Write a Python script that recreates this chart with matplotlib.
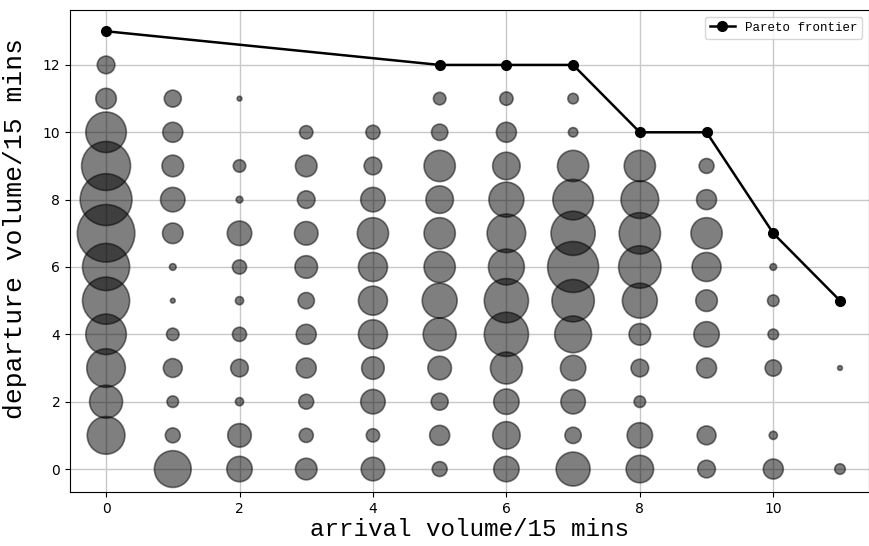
import numpy as np
import matplotlib
matplotlib.use("Agg")
import matplotlib.pyplot as plt

# arrival volume (x) and departure volume (y) grid
arrivals = list(range(12))
departures = list(range(13))

# number of observations per (departure, arrival) cell, rows = departure 0..12
counts = [
    [0, 61, 29, 21, 25, 10, 29, 52, 34, 14, 18, 5],    # 0
    [64, 10, 25, 9, 8, 18, 34, 12, 29, 16, 3, 0],      # 1
    [49, 6, 3, 10, 27, 13, 29, 27, 6, 0, 0, 0],        # 2
    [67, 16, 14, 18, 23, 25, 46, 29, 14, 18, 12, 1],   # 3
    [74, 7, 9, 18, 38, 49, 88, 61, 21, 29, 5, 0],      # 4
    [100, 1, 3, 12, 38, 55, 88, 81, 55, 21, 6, 0],     # 5
    [100, 2, 9, 23, 38, 44, 58, 117, 81, 38, 2, 0],    # 6
    [149, 19, 27, 25, 44, 44, 67, 88, 77, 44, 0, 0],   # 7
    [121, 27, 2, 14, 27, 34, 55, 74, 64, 18, 0, 0],    # 8
    [108, 21, 7, 21, 14, 44, 34, 44, 44, 10, 0, 0],    # 9
    [74, 18, 0, 8, 9, 12, 18, 4, 0, 0, 0, 0],          # 10
    [19, 13, 1, 0, 0, 7, 8, 5, 0, 0, 0, 0],            # 11
    [14, 0, 0, 0, 0, 0, 0, 0, 0, 0, 0, 0],             # 12
]

pareto_x = [0, 5, 6, 7, 8, 9, 10, 11]
pareto_y = [13, 12, 12, 12, 10, 10, 7, 5]

counts = np.array(counts)
yy, xx = np.nonzero(counts)
c = counts[yy, xx]

fig = plt.figure(figsize=(8.7, 5.46), dpi=100)
ax = fig.add_axes([0.0805, 0.099, 0.918, 0.882])

ax.scatter(np.array(arrivals)[xx], np.array(departures)[yy], s=c * 11.5,
           facecolor="black", edgecolor="black", alpha=0.5, linewidth=1.2, zorder=3)
ax.plot(pareto_x, pareto_y, "-o", color="black", linewidth=1.8, markersize=7,
        label="Pareto frontier", zorder=4)

ax.set_xlim(-0.54, 11.43)
ax.set_ylim(-0.68, 13.62)
ax.set_xticks([0, 2, 4, 6, 8, 10])
ax.set_yticks([0, 2, 4, 6, 8, 10, 12])
ax.tick_params(labelsize=10)
ax.grid(True, color="#c8c8c8", linewidth=1.0, zorder=0)
ax.set_axisbelow(True)

ax.set_xlabel("arrival volume/15 mins", family="Liberation Mono", fontsize=17.5, labelpad=2)
ax.set_ylabel("departure volume/15 mins", family="Liberation Mono", fontsize=19, labelpad=4)
ax.yaxis.set_label_coords(-0.054, 0.547)
ax.legend(loc="upper right", prop={"family": "Liberation Mono", "size": 9})

fig.savefig("out.png", dpi=100)
